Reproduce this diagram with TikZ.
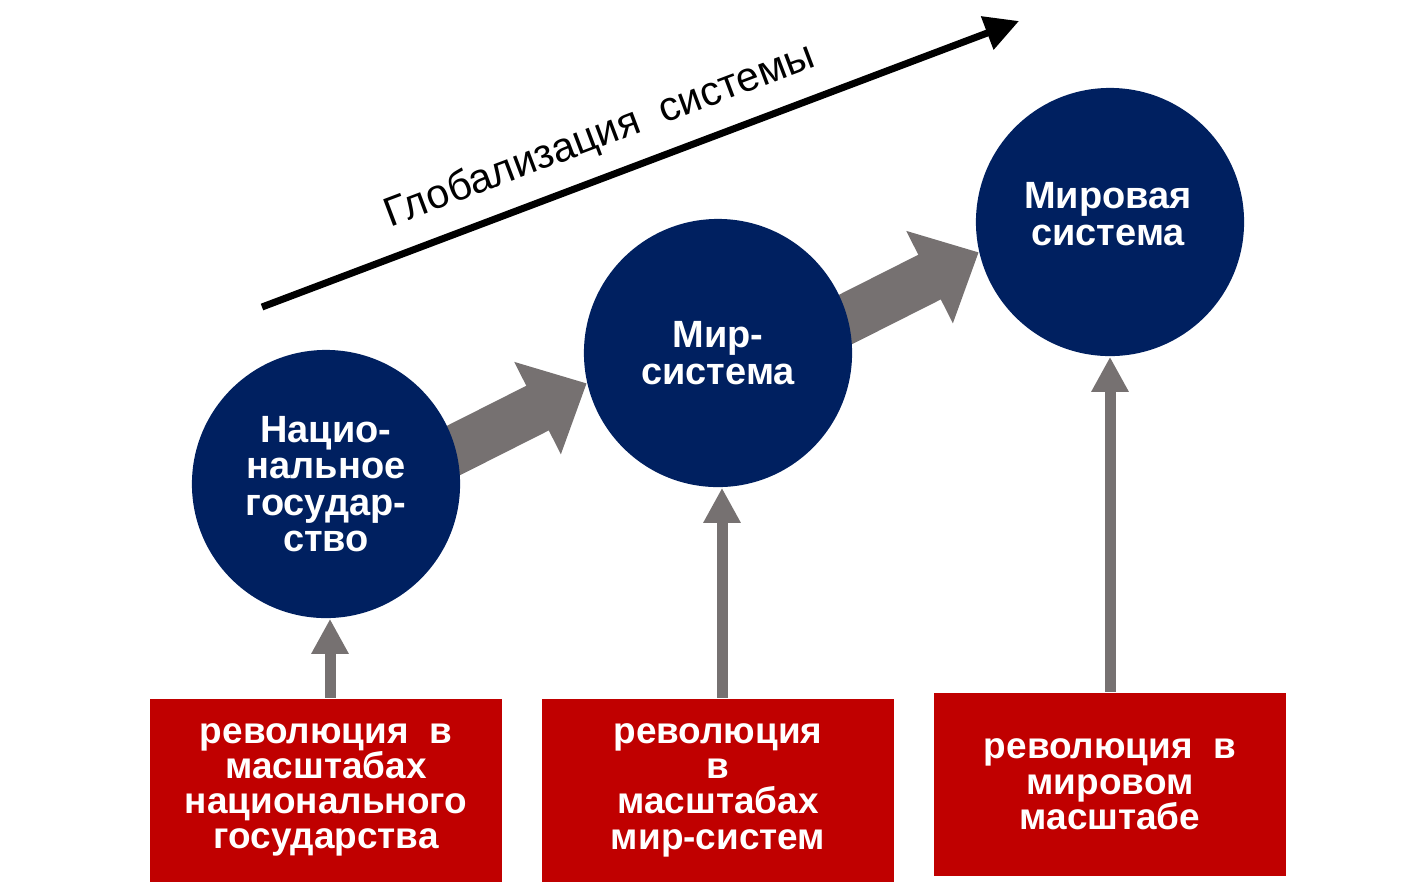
\documentclass[tikz,border=0pt]{standalone}
\usepackage{fontspec}
\setmainfont{Liberation Sans}
\usetikzlibrary{arrows.meta,positioning,backgrounds}
\definecolor{DeepNavy}{RGB}{0,32,96}
\definecolor{RevRed}{RGB}{192,0,0}
\definecolor{StepGray}{RGB}{118,113,113}

\begin{document}
\begin{tikzpicture}[x=0.01cm,y=-0.01cm,
  stage/.style={circle,fill=DeepNavy,minimum size=2.68cm,inner sep=0pt,text=white,align=center,font=\bfseries\fontsize{10.8}{10.3}\selectfont},
  revbox/.style={fill=RevRed,minimum width=3.52cm,minimum height=1.83cm,inner sep=0pt,text=white,align=center,font=\bfseries\fontsize{10.5}{10}\selectfont},
  bigstep/.style={StepGray,line width=0.5cm,-{Triangle[width=1cm,length=0.55cm]},shorten <=-0.3cm},
  riser/.style={StepGray,line width=0.11cm,-{Triangle[width=0.35cm,length=0.35cm]}}]
\useasboundingbox (0,0) rectangle (1422,890);
% globalization trend
\coordinate (gs) at (262,307);
\coordinate (ge) at (1019,21);
\draw[line width=0.07cm,-{Triangle[width=0.34cm,length=0.34cm]}] (gs) -- node[pos=0.465,sloped,above=0.6mm,font=\fontsize{11.7}{13}\selectfont] (glob) {Глобализация~ системы} (ge);
% three stages
\node[stage] (nat) at (326,484) {Нацио-\\нальное\\государ-\\ство};
\node[stage] (ws) at (718,353) {Мир-\\система};
\node[stage] (gl) at (1110,222) {};
\node[stage,fill=none,minimum size=0pt] (gltext) at (1108,214) {Мировая\\система};
\begin{scope}[on background layer]
\draw[bigstep] (nat.15) -- (ws.193);
\draw[bigstep] (ws.15) -- (gl.193);
\end{scope}
% revolutions
\node[revbox,below=0.79cm of nat] (rnat) {революция~ в\\масштабах\\национального\\государства};
\node[revbox,below=2.1cm of ws] (rws) {революция\\в\\масштабах\\мир-систем};
\node[revbox,below=3.38cm of gl,yshift=0.03cm] (rgl) {революция~ в\\мировом\\масштабе};
\draw[riser] ([xshift=0.04cm]rnat.north) -- ([xshift=0.04cm]nat.south);
\draw[riser] ([xshift=0.04cm]rws.north) -- ([xshift=0.04cm]ws.south);
\draw[riser] (rgl.north) -- (gl.south);
\end{tikzpicture}
\end{document}
